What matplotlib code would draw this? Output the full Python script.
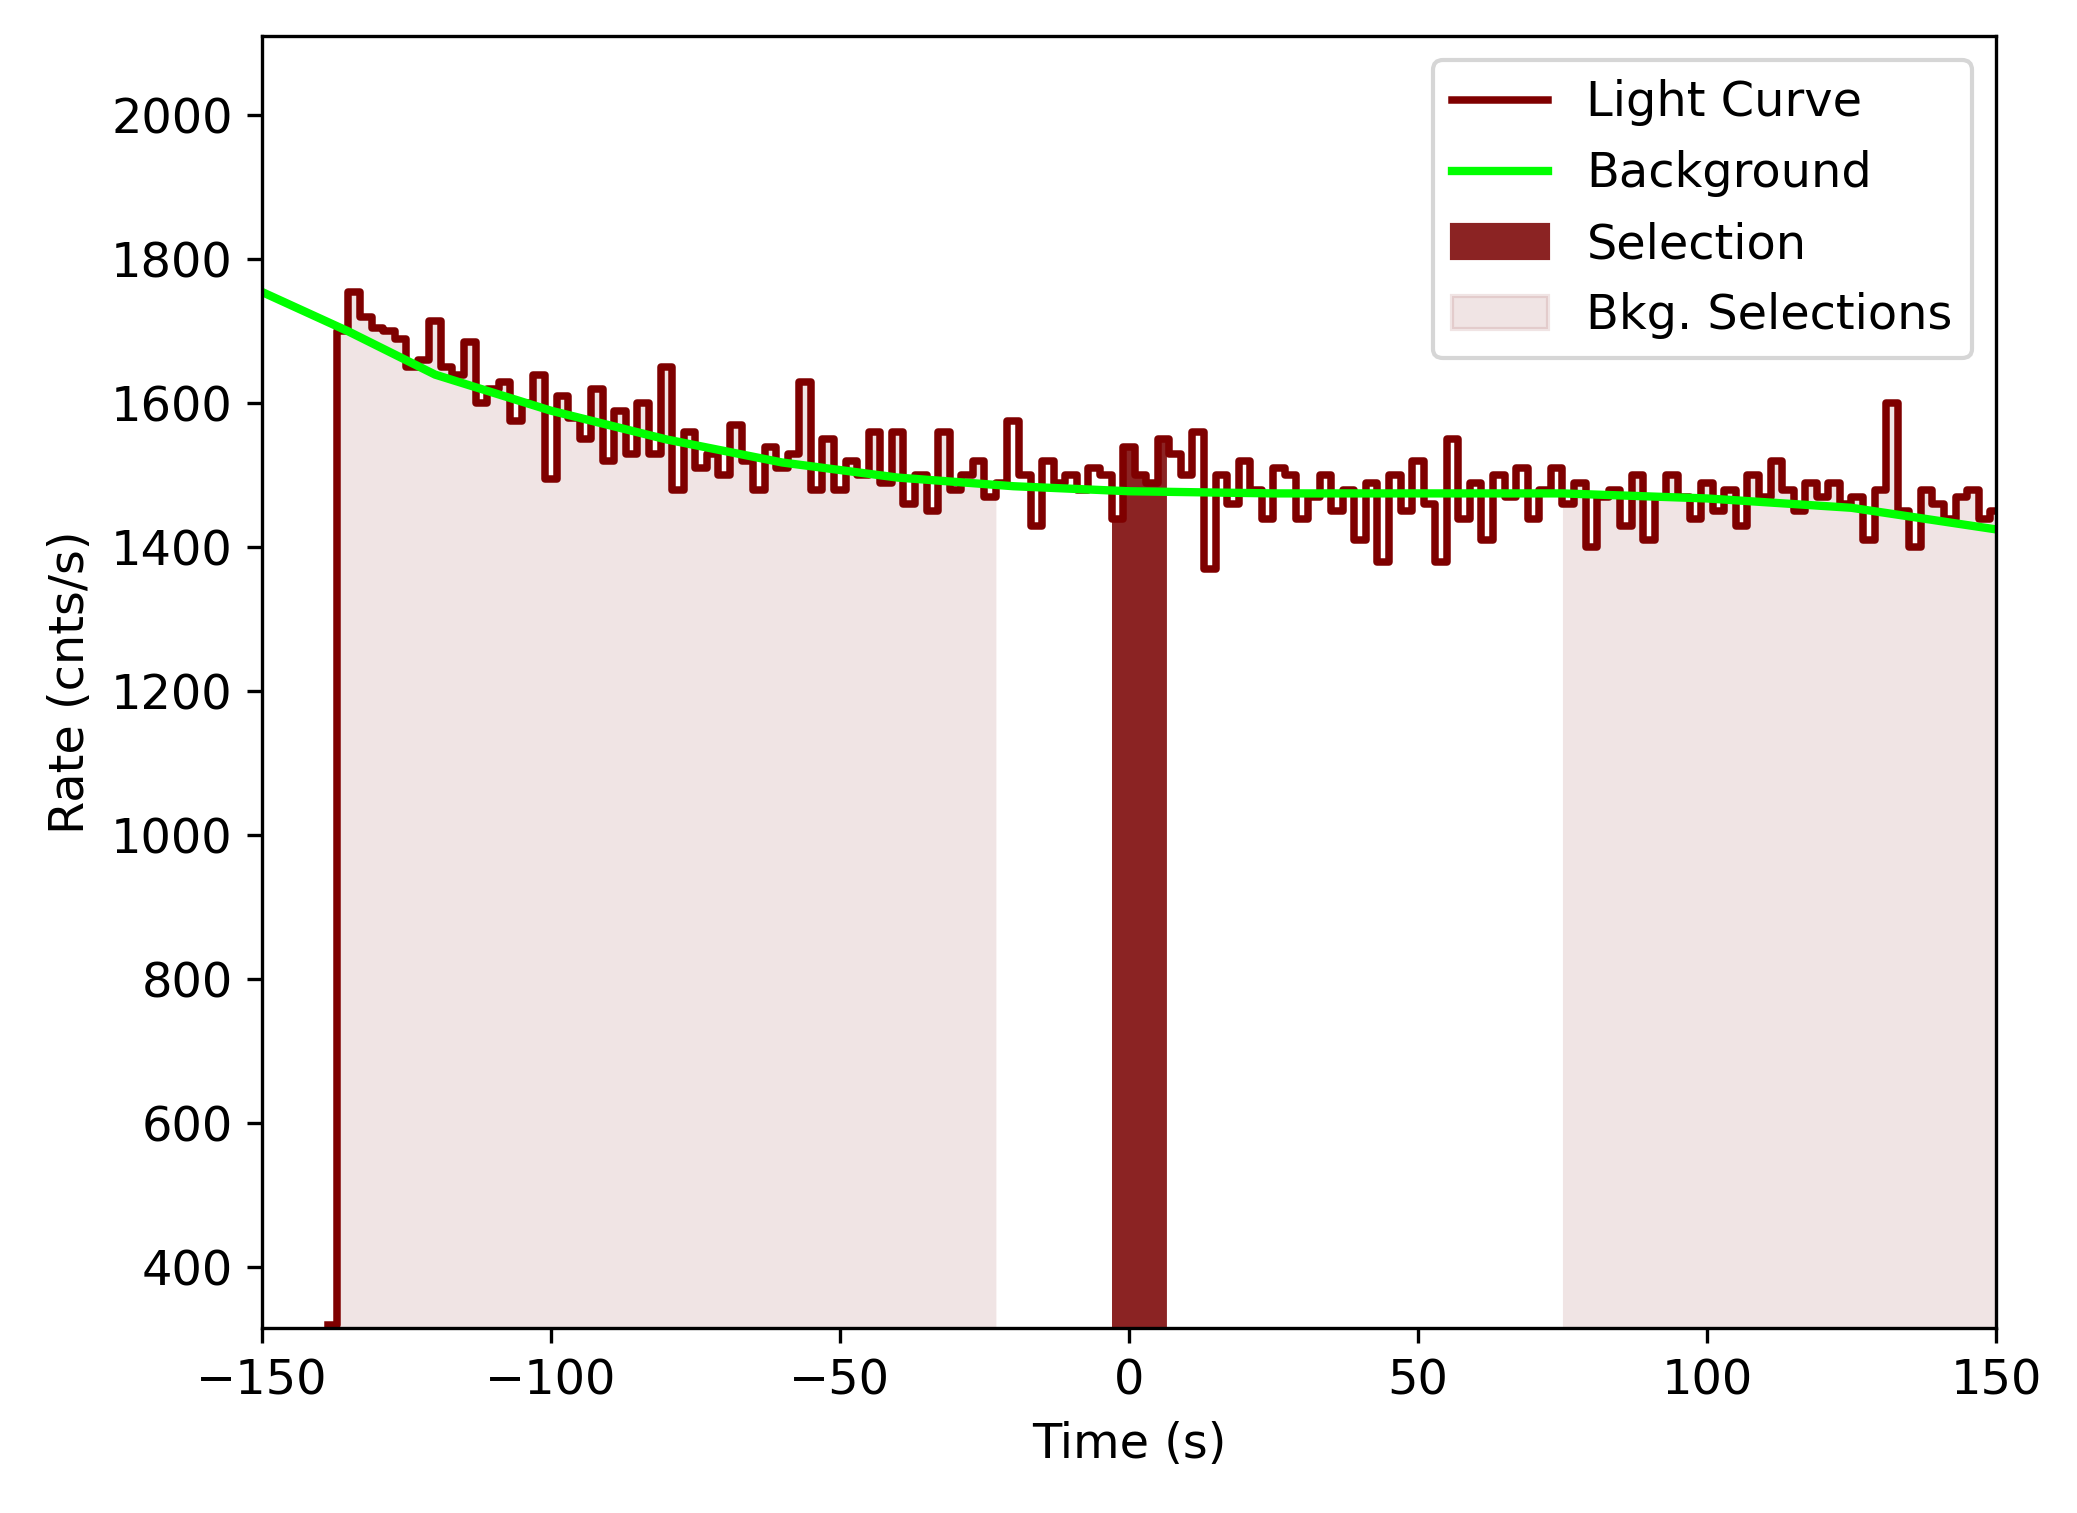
import matplotlib
matplotlib.use("Agg")
import matplotlib.pyplot as plt
import numpy as np
from matplotlib.patches import Patch

# light curve, 2 s bins starting at -137 s
lc_start = -137.0
lc_width = 2.0
lc_rates = [
 1700, 1755, 1720, 1705, 1700, 1690, 1650, 1660, 1715, 1650, 1640, 1685, 1600, 1620, 1630, 1575,
 1600, 1640, 1495, 1610, 1580, 1550, 1620, 1520, 1590, 1530, 1600, 1530, 1650, 1480, 1560, 1510,
 1530, 1500, 1570, 1520, 1480, 1540, 1510, 1530, 1630, 1480, 1550, 1480, 1520, 1500, 1560, 1490,
 1560, 1460, 1500, 1450, 1560, 1480, 1500, 1520, 1470, 1490, 1575, 1500, 1430, 1520, 1490, 1500,
 1480, 1510, 1500, 1440, 1540, 1500, 1490, 1550, 1530, 1500, 1560, 1370, 1500, 1460, 1520, 1480,
 1440, 1510, 1500, 1440, 1470, 1500, 1450, 1480, 1410, 1490, 1380, 1500, 1450, 1520, 1460, 1380,
 1550, 1440, 1490, 1410, 1500, 1470, 1510, 1440, 1480, 1510, 1460, 1490, 1400, 1470, 1480, 1430,
 1500, 1410, 1470, 1500, 1470, 1440, 1490, 1450, 1480, 1430, 1500, 1470, 1520, 1480, 1450, 1490,
 1470, 1490, 1460, 1470, 1410, 1480, 1600, 1450, 1400, 1480, 1460, 1440, 1470, 1480, 1440, 1450,
]
pre_rate = 320

# background model knots
bkg_t = [-150, -135, -120, -100, -80, -60, -40, -20, 0, 25, 50, 75, 100, 125, 150]
bkg_r = [1755, 1700, 1640, 1590, 1550, 1518, 1497, 1485, 1478, 1475, 1475, 1475, 1468, 1455, 1425]

sel_range = (-3.0, 6.5)
bkg_ranges = [(-137.0, -23.0), (75.0, 150.0)]

fig = plt.figure(figsize=(2077/300, 1513/300), dpi=300)
ax = fig.add_axes([0.126, 0.122, 0.835, 0.854])

edges = lc_start + lc_width*np.arange(len(lc_rates)+1)
rates = np.array(lc_rates, float)
x = np.concatenate([[lc_start-1.5, lc_start], edges])
y = np.concatenate([[pre_rate, pre_rate], rates, [rates[-1]]])
ymin = 315
color = '#7f0000'

def rate_at(t):
    idx = np.clip(np.searchsorted(x, t, side='right') - 1, 0, len(y)-1)
    return y[idx]

for lo, hi in bkg_ranges + [sel_range]:
    g = np.linspace(lo, hi, 2000)
    is_sel = (lo, hi) == sel_range
    ax.fill_between(g, ymin, rate_at(g), color='#8b2323', alpha=1.0 if is_sel else 0.12, lw=0)
ax.step(x, y, where='post', color=color, lw=1.8, label='Light Curve')
ax.plot(bkg_t, bkg_r, color='#00ff00', lw=2, label='Background')

h, l = ax.get_legend_handles_labels()
h += [Patch(color='#8b2323'), Patch(color='#8b2323', alpha=0.12)]
l += ['Selection', 'Bkg. Selections']
ax.legend(h, l, loc='upper right', fontsize=11.5)
ax.set_xlim(-150, 150)
ax.set_ylim(ymin, 2110)
ax.set_xlabel('Time (s)', fontsize=11.5)
ax.set_ylabel('Rate (cnts/s)', fontsize=11.5)
ax.tick_params(labelsize=11.5)
fig.savefig('out.png', dpi=300)
